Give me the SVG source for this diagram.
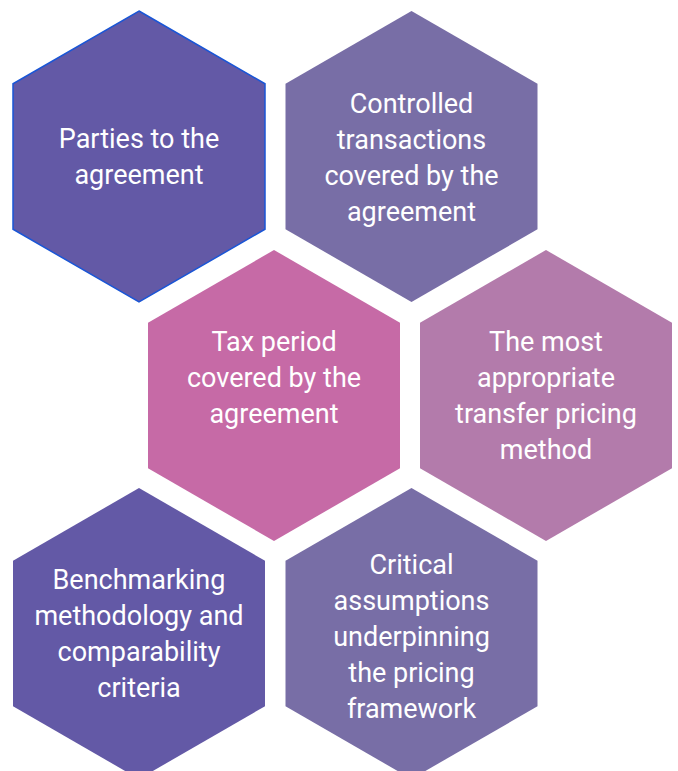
<svg xmlns="http://www.w3.org/2000/svg" width="678" height="771" viewBox="0 0 678 771">
  <defs>
    <!-- regular pointy-top hexagon, circumradius 145.5 -->
    <polygon id="hex" points="0,-145.5 126,-72.75 126,72.75 0,145.5 -126,72.75 -126,-72.75"/>
  </defs>
  <style>
    .label { font-family: Roboto, "Liberation Sans", sans-serif; font-size: 27px; fill: #ffffff; text-anchor: middle; }
    .c-indigo { fill: #6359a6; }
    .c-slate { fill: #786ea6; }
    .c-pink { fill: #c66aa6; }
    .c-mauve { fill: #b37bab; }
  </style>
  <rect width="678" height="771" fill="#ffffff"/>

  <g id="parties">
    <use href="#hex" x="139" y="156.5" class="c-indigo" stroke="#1a56d6" stroke-width="1.5"/>
    <text class="label" x="139" y="148">Parties to the</text>
    <text class="label" x="139" y="184">agreement</text>
  </g>

  <g id="controlled-transactions">
    <use href="#hex" x="411.5" y="156.5" class="c-slate"/>
    <text class="label" x="411.5" y="113">Controlled</text>
    <text class="label" x="411.5" y="149">transactions</text>
    <text class="label" x="411.5" y="185">covered by the</text>
    <text class="label" x="411.5" y="221">agreement</text>
  </g>

  <g id="tax-period">
    <use href="#hex" x="274" y="395.5" class="c-pink"/>
    <text class="label" x="274" y="351">Tax period</text>
    <text class="label" x="274" y="387">covered by the</text>
    <text class="label" x="274" y="423">agreement</text>
  </g>

  <g id="pricing-method">
    <use href="#hex" x="546" y="395.5" class="c-mauve"/>
    <text class="label" x="546" y="351">The most</text>
    <text class="label" x="546" y="387">appropriate</text>
    <text class="label" x="546" y="423">transfer pricing</text>
    <text class="label" x="546" y="459">method</text>
  </g>

  <g id="benchmarking">
    <use href="#hex" x="139" y="633.5" class="c-indigo"/>
    <text class="label" x="139" y="589">Benchmarking</text>
    <text class="label" x="139" y="625">methodology and</text>
    <text class="label" x="139" y="661">comparability</text>
    <text class="label" x="139" y="697">criteria</text>
  </g>

  <g id="critical-assumptions">
    <use href="#hex" x="411.5" y="633.5" class="c-slate"/>
    <text class="label" x="411.5" y="574">Critical</text>
    <text class="label" x="411.5" y="610">assumptions</text>
    <text class="label" x="411.5" y="646">underpinning</text>
    <text class="label" x="411.5" y="682">the pricing</text>
    <text class="label" x="411.5" y="718">framework</text>
  </g>
</svg>
